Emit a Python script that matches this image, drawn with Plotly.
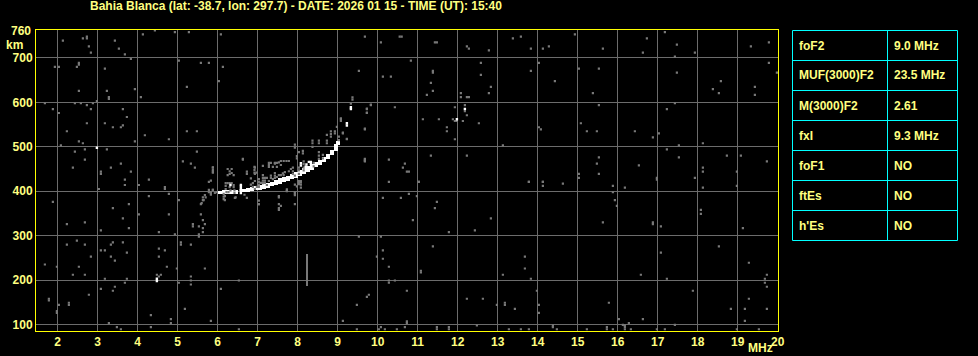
import plotly.graph_objects as go

# ---------------- data ----------------
title_text = "Bahia Blanca (lat: -38.7, lon: 297.7) - DATE: 2026 01 15 - TIME (UT): 15:40"

x_ticks = list(range(2, 21))
y_ticks = [100, 200, 300, 400, 500, 600, 700]

param_names = ["foF2", "MUF(3000)F2", "M(3000)F2", "fxI", "foF1", "ftEs", "h'Es"]
param_values = ["9.0 MHz", "23.5 MHz", "2.61", "9.3 MHz", "NO", "NO", "NO"]

# main white F-trace: frequency (MHz), lower / upper virtual height (km)
band_mhz = [6.05, 6.15, 6.25, 6.35, 6.45, 6.65, 6.75, 6.85, 6.95, 7.05, 7.15, 7.25, 7.35,
            7.45, 7.55, 7.65, 7.75, 7.85, 7.95, 8.05, 8.15, 8.25, 8.35, 8.45, 8.55, 8.65,
            8.75, 8.85, 8.95, 9.02]
band_lo = [394, 394, 394, 395, 396, 399, 400, 402, 403, 405, 407, 409, 412,
           415, 418, 421, 425, 428, 431, 435, 440, 445, 450, 456, 461, 467,
           474, 482, 492, 505]
band_hi = [402, 404, 405, 405, 404, 407, 408, 410, 413, 415, 417, 419, 422,
           426, 430, 433, 436, 440, 444, 449, 454, 459, 463, 467, 472, 478,
           486, 494, 508, 514]

# isolated white echoes (MHz, km)
white_points = [(9.23, 553), (9.23, 548), (9.33, 585), (9.33, 589), (12.18, 585), (11.98, 562),
                (4.48, 203), (4.48, 198), (2.98, 498), (6.32, 414), (8.08, 458), (8.08, 463),
                (8.2, 455), (8.28, 466), (8.33, 466), (8.33, 461), (8.22, 460),
                (6.58, 396), (6.58, 401), (6.58, 405), (6.58, 410), (6.58, 414)]

# grey echoes around the trace (MHz, km)
clutter_points = [
    (9.37, 611), (9.37, 606), (9.33, 597), (9.83, 595), (9.73, 586), (9.73, 577), (9.68, 541),
    (9.68, 473), (9.68, 468), (9.08, 564), (8.98, 545), (9.13, 532), (8.83, 535), (8.83, 529),
    (8.83, 523), (8.93, 535), (8.93, 530), (8.73, 527), (9.03, 523), (9.03, 515), (9.23, 518),
    (8.53, 514), (8.53, 508), (8.73, 514), (8.73, 508), (8.37, 514), (8.37, 508), (8.37, 500),
    (7.93, 505), (7.93, 498), (8.03, 488), (8.13, 491), (8.13, 485), (7.98, 479), (7.98, 474),
    (8.53, 488), (8.53, 480), (8.53, 473), (8.63, 482), (8.63, 474), (8.15, 467), (8.15, 461),
    (8.15, 453), (8.15, 447), (8.03, 453), (8.03, 447), (8.03, 439), (7.88, 453), (7.88, 445),
    (7.88, 439), (7.93, 435), (8.4, 464), (8.4, 456), (7.65, 468), (7.72, 468), (7.78, 468),
    (7.53, 465), (7.28, 464), (7.33, 464), (7.43, 464), (7.48, 464), (7.28, 455), (7.38, 455),
    (7.48, 455), (7.53, 436), (7.58, 436), (7.65, 436), (7.43, 441), (7.43, 435), (7.43, 430),
    (7.33, 435), (7.33, 430), (7.13, 436), (7.13, 430), (7.13, 424), (7.13, 418), (7.18, 430),
    (7.23, 430), (7.18, 424), (7.03, 427), (7.03, 421), (7.03, 415), (6.93, 423), (6.88, 418),
    (6.83, 415), (6.92, 455), (6.92, 448), (6.92, 442), (6.97, 442), (6.73, 444), (6.63, 473),
    (6.25, 450), (6.35, 450), (6.3, 445), (6.3, 439), (6.25, 436), (6.4, 436), (6.35, 441),
    (6.2, 418), (6.25, 418), (6.3, 418), (6.35, 418), (6.2, 412), (6.3, 409), (6.4, 414),
    (6.4, 409), (6.2, 405), (6.15, 394), (6.15, 388), (6.15, 382), (5.88, 454), (5.88, 448),
    (5.88, 442), (5.83, 424), (5.78, 403), (5.88, 403), (5.83, 398), (5.78, 398), (5.7, 386),
    (5.65, 380), (5.6, 373), (6.45, 386), (6.57, 403), (6.67, 392), (7.03, 379), (7.03, 371),
    (7.53, 386), (7.53, 371), (7.53, 362), (7.73, 404), (7.73, 400), (7.93, 415), (7.98, 411),
    (8.03, 423), (8.08, 423), (8.08, 415), (7.93, 395), (7.93, 391), (6.83, 429), (6.73, 439),
    (6.93, 453), (6.93, 439), (7.13, 457), (7.28, 459), (7.43, 462), (7.58, 468), (7.58, 459),
    (6.22, 398), (6.27, 398), (6.32, 402), (6.42, 402), (6.42, 396), (5.83, 392), (5.93, 396),
    (5.98, 398), (6.93, 405), (6.98, 410), (7.03, 410), (6.88, 410), (7.08, 419), (7.18, 419),
    (7.23, 414), (7.28, 423), (7.38, 427), (7.48, 432), (7.63, 440), (7.68, 443), (7.78, 445),
    (7.83, 450)]

# grey vertical streak (MHz, km bottom, km top)
streak_mhz = [8.23]
streak_lo = [188]
streak_hi = [259]

# scattered grey noise, upper half (MHz, km)
noise_upper = [
    (2.13, 739), (2.63, 744), (2.73, 748), (2.73, 744), (2.78, 726), (2.83, 712), (3.43, 739),
    (3.53, 721), (3.68, 708), (3.83, 698), (4.13, 753), (4.43, 762), (4.93, 758), (5.28, 758),
    (6.08, 753), (5.03, 694), (5.58, 689), (5.78, 689), (6.13, 680), (1.93, 680), (2.03, 680),
    (2.53, 689), (2.53, 685), (2.48, 680), (3.18, 676), (6.03, 648), (5.23, 635), (2.53, 626),
    (3.23, 626), (3.28, 612), (3.28, 608), (3.93, 630), (4.08, 612), (1.68, 598), (2.43, 598),
    (2.58, 598), (2.73, 594), (2.88, 598), (2.98, 603), (1.88, 585), (2.03, 576), (2.83, 585),
    (3.63, 585), (3.73, 567), (3.18, 553), (3.38, 544), (3.58, 544), (3.63, 548), (2.73, 553),
    (2.23, 535), (4.18, 526), (4.78, 517), (5.23, 535), (5.48, 535), (2.53, 512), (2.63, 508),
    (2.08, 503), (3.93, 512), (3.23, 494), (2.68, 494), (2.43, 489), (2.68, 471), (2.38, 453),
    (3.08, 444), (3.08, 439), (3.33, 453), (3.58, 462), (3.83, 444), (3.68, 426), (4.28, 426),
    (5.13, 467), (5.33, 462), (5.48, 489), (5.43, 453), (5.88, 453), (5.88, 444), (6.63, 471),
    (9.68, 748), (10.55, 748), (10.6, 748), (10.08, 735), (11.43, 735), (11.48, 735),
    (12.23, 726), (12.28, 721), (12.78, 717), (13.38, 744), (13.58, 748), (13.83, 721),
    (10.83, 694), (9.53, 671), (10.13, 658), (10.33, 658), (11.38, 671), (11.38, 667),
    (12.58, 689), (12.58, 662), (13.83, 671), (11.33, 644), (11.38, 626), (11.23, 617),
    (12.08, 621), (12.08, 612), (12.23, 612), (12.28, 612), (12.78, 621), (12.83, 635),
    (9.73, 585), (9.73, 576), (9.83, 594), (10.43, 589), (9.68, 539), (9.08, 562), (9.08, 558),
    (9.13, 530), (9.23, 517), (11.13, 562), (11.53, 562), (11.88, 562), (11.93, 558),
    (11.98, 558), (11.93, 589), (12.18, 594), (12.18, 580), (12.23, 571), (12.13, 558),
    (12.53, 553), (11.73, 544), (11.73, 535), (11.93, 517), (13.13, 503), (11.33, 480),
    (12.23, 480), (10.28, 471), (10.68, 462), (10.63, 453), (10.73, 444), (10.78, 444),
    (9.68, 471), (9.68, 467), (11.03, 421), (13.78, 421),
    (14.93, 753), (14.13, 721), (14.28, 726), (15.63, 721), (16.73, 744), (17.18, 758),
    (17.48, 730), (16.63, 712), (17.43, 703), (17.93, 712), (19.33, 726), (19.78, 735),
    (14.03, 689), (15.03, 676), (15.53, 676), (19.78, 689), (19.98, 667), (14.43, 648),
    (17.48, 667), (18.58, 648), (18.38, 630), (18.53, 621), (19.43, 635), (19.43, 617),
    (15.38, 621), (15.53, 594), (17.43, 598), (17.23, 585), (14.03, 544), (14.08, 539),
    (15.08, 553), (15.23, 535), (15.48, 535), (16.43, 535), (16.88, 521), (17.03, 530),
    (17.53, 503), (18.13, 508), (17.23, 494), (17.53, 476), (18.73, 480), (19.08, 480),
    (19.73, 467), (15.53, 476), (15.48, 462), (15.53, 439), (15.03, 439), (15.03, 430),
    (16.53, 458), (16.98, 430), (16.98, 426), (17.93, 430), (18.13, 453), (18.13, 444),
    (18.98, 444), (14.13, 421)]

# scattered grey noise, lower half (MHz, km)
noise_lower = [
    (3.03, 405), (3.68, 414), (4.03, 414), (4.68, 409), (4.68, 405), (1.88, 376), (2.23, 326),
    (2.68, 330), (3.38, 362), (3.78, 371), (3.63, 339), (3.08, 312), (3.78, 317), (4.28, 389),
    (4.78, 394), (5.03, 380), (4.03, 348), (4.78, 348), (4.53, 308), (4.93, 303),
    (5.63, 386), (5.63, 380), (5.58, 371), (5.58, 348), (5.63, 335), (5.68, 326), (5.53, 321),
    (5.38, 326), (5.38, 321), (5.63, 317), (5.63, 308), (5.53, 303), (5.53, 298), (5.68, 391),
    (5.78, 421), (5.88, 403), (5.83, 395), (6.18, 389), (6.18, 380), (6.43, 385), (6.73, 385),
    (7.03, 371), (7.53, 389), (7.58, 367), (7.53, 358),
    (2.23, 280), (2.48, 289), (2.68, 280), (2.83, 253), (1.68, 235), (1.98, 230), (2.38, 212),
    (2.53, 230), (2.68, 212), (3.08, 267), (3.18, 267), (3.33, 280), (3.38, 285), (3.63, 285),
    (3.73, 262), (3.33, 253), (3.43, 244), (3.18, 203), (3.73, 203), (3.68, 194), (4.53, 271),
    (4.68, 267), (4.53, 253), (4.73, 230), (4.98, 226), (5.08, 285), (5.08, 280), (5.33, 280),
    (5.68, 226), (4.48, 212), (4.58, 212), (4.53, 208), (5.03, 194), (5.33, 208), (5.33, 199),
    (5.33, 190), (6.53, 199), (6.08, 180), (3.08, 180), (3.38, 176), (3.43, 185), (2.78, 167),
    (1.78, 158), (1.78, 154), (2.28, 149), (2.28, 144), (2.03, 144), (1.98, 130), (1.98, 126),
    (5.18, 135), (4.33, 121), (4.83, 112), (4.83, 103), (5.83, 108), (3.28, 103), (3.48, 94),
    (3.58, 89), (4.33, 94), (6.53, 89),
    (8.08, 420), (8.03, 421), (8.03, 416), (7.73, 401), (7.93, 398), (8.08, 408), (7.93, 371),
    (10.13, 385), (10.58, 385), (10.78, 394), (10.98, 389), (11.48, 376), (11.43, 362),
    (10.88, 335), (11.78, 308), (12.43, 312), (12.83, 339), (9.53, 298), (10.08, 298),
    (13.78, 421), (10.28, 421), (11.03, 421), (11.38, 276), (10.13, 267), (9.98, 253),
    (10.13, 248), (10.28, 230), (11.08, 221), (11.08, 217), (10.28, 199), (10.28, 194),
    (10.43, 199), (13.68, 253), (13.68, 226), (13.13, 212), (13.83, 203), (10.73, 176),
    (9.78, 167), (9.73, 162), (9.48, 144), (9.13, 108), (12.23, 158), (12.63, 158),
    (12.98, 144), (13.18, 149), (13.18, 144), (13.43, 135), (9.48, 89), (10.03, 89),
    (10.08, 94), (10.18, 89), (10.48, 89), (10.68, 94), (10.73, 107), (10.73, 103),
    (11.48, 94), (11.48, 89), (11.78, 94), (11.78, 89), (12.48, 98), (13.28, 89), (13.58, 89),
    (13.78, 89),
    (14.13, 421), (14.13, 412), (14.63, 417), (15.88, 412), (16.18, 408), (15.88, 398),
    (15.93, 380), (15.98, 367), (18.13, 408), (18.98, 412), (18.08, 358), (18.08, 349),
    (15.63, 330), (16.88, 330), (16.88, 326), (17.08, 321), (19.13, 317), (18.53, 276),
    (17.08, 262), (19.28, 239), (16.58, 212), (17.23, 203), (19.73, 212), (19.68, 203),
    (19.68, 194), (19.73, 185), (17.88, 176), (13.98, 176), (14.03, 144), (14.03, 126),
    (15.78, 149), (19.28, 158), (18.83, 135), (19.18, 135), (19.73, 135), (19.18, 108),
    (16.03, 112), (16.13, 99), (16.28, 103), (16.63, 112), (17.43, 99), (14.38, 98),
    (14.38, 94), (14.48, 89), (15.23, 89), (15.73, 94), (15.73, 89), (15.88, 89), (16.18, 98),
    (16.18, 94), (16.18, 89), (16.33, 89), (16.98, 89), (17.18, 89), (18.98, 89), (19.53, 89)]

# ---------------- styling ----------------
W, H = 978, 356
BG = "#000000"
GRID = "#6c6c6c"
ECHO_GREY = "#787878"
TXT = "#ffff80"
FRAME = "#ffff00"
TABLE_LINE = "#00ffff"
FONT = "Liberation Sans"

# plot frame in pixels
PL, PR, PT, PB = 36, 778, 29.5, 330.5


def px_x(p):
    return p / W


def px_y(p):
    return 1 - p / H


fig = go.Figure()

grey_all = noise_upper + noise_lower + clutter_points
fig.add_trace(go.Scatter(
    x=[p[0] for p in grey_all], y=[p[1] for p in grey_all], mode="markers",
    marker=dict(symbol="square", size=2.2, color=ECHO_GREY, line=dict(width=0)),
    hoverinfo="skip", showlegend=False))

fig.add_trace(go.Bar(
    x=streak_mhz, y=[h - l for l, h in zip(streak_lo, streak_hi)], base=streak_lo,
    width=0.05, marker=dict(color=ECHO_GREY, line=dict(width=0)),
    hoverinfo="skip", showlegend=False))

fig.add_trace(go.Bar(
    x=band_mhz, y=[h - l for l, h in zip(band_lo, band_hi)], base=band_lo,
    width=0.1, marker=dict(color="#ffffff", line=dict(width=0)),
    hoverinfo="skip", showlegend=False))

fig.add_trace(go.Scatter(
    x=[p[0] for p in white_points], y=[p[1] for p in white_points], mode="markers",
    marker=dict(symbol="square", size=2.4, color="#ffffff", line=dict(width=0)),
    hoverinfo="skip", showlegend=False))

tickfont = dict(family=FONT, size=12, color=TXT, weight="bold")

fig.update_layout(
    width=W, height=H,
    margin=dict(l=0, r=0, t=0, b=0, pad=0, autoexpand=False),
    paper_bgcolor=BG, plot_bgcolor=BG,
    barmode="overlay", bargap=0,
    showlegend=False,
    xaxis=dict(domain=[PL / W, PR / W], range=[1.458, 20.008], automargin=False,
               tickvals=x_ticks, ticktext=[str(v) for v in x_ticks],
               showgrid=True, gridcolor=GRID, gridwidth=1, zeroline=False,
               showline=True, linecolor=FRAME, linewidth=1, mirror=True,
               ticks="", tickfont=tickfont, fixedrange=True),
    yaxis=dict(domain=[1 - PB / H, 1 - PT / H], range=[86.5, 764], automargin=False,
               tickvals=y_ticks, ticktext=[str(v) for v in y_ticks],
               showgrid=True, gridcolor=GRID, gridwidth=1, zeroline=False,
               showline=True, linecolor=FRAME, linewidth=1, mirror=True,
               ticks="", tickfont=tickfont, fixedrange=True),
)

annotations = [
    dict(text=title_text, x=px_x(88), y=px_y(6.5), xanchor="left", yanchor="middle",
         font=dict(family=FONT, size=12, color=TXT, weight="bold")),
    dict(text="760", x=px_x(33), y=px_y(31), xanchor="right", yanchor="middle",
         font=tickfont),
    dict(text="km", x=px_x(14), y=px_y(45), xanchor="center", yanchor="middle",
         font=dict(family=FONT, size=12, color=TXT, weight="bold")),
    dict(text="MHz", x=px_x(760), y=px_y(348), xanchor="center", yanchor="middle",
         font=tickfont),
]

# parameter table on the right
T_L, T_M, T_R, T_T, ROW_H = 792.5, 887.5, 957.5, 30.5, 30
n_rows = len(param_names)
shapes = [dict(type="rect", xref="paper", yref="paper",
               x0=px_x(T_L), x1=px_x(T_R), y0=px_y(T_T), y1=px_y(T_T + n_rows * ROW_H),
               line=dict(color=TABLE_LINE, width=1), fillcolor="rgba(0,0,0,0)")]
shapes.append(dict(type="line", xref="paper", yref="paper",
                   x0=px_x(T_M), x1=px_x(T_M), y0=px_y(T_T), y1=px_y(T_T + n_rows * ROW_H),
                   line=dict(color=TABLE_LINE, width=1)))
for i in range(1, n_rows):
    yy = T_T + i * ROW_H
    shapes.append(dict(type="line", xref="paper", yref="paper",
                       x0=px_x(T_L), x1=px_x(T_R), y0=px_y(yy), y1=px_y(yy),
                       line=dict(color=TABLE_LINE, width=1)))
tfont = dict(family=FONT, size=12, color=TXT, weight="bold")
for i, (nm, val) in enumerate(zip(param_names, param_values)):
    yc = T_T + i * ROW_H + ROW_H / 2
    annotations.append(dict(text=nm, x=px_x(T_L + 4), y=px_y(yc), xanchor="left",
                            yanchor="middle", font=tfont))
    annotations.append(dict(text=val, x=px_x(T_M + 4), y=px_y(yc), xanchor="left",
                            yanchor="middle", font=tfont))

for a in annotations:
    a.update(xref="paper", yref="paper", showarrow=False)

fig.update_layout(annotations=annotations, shapes=shapes)

fig.write_html("out.html")
